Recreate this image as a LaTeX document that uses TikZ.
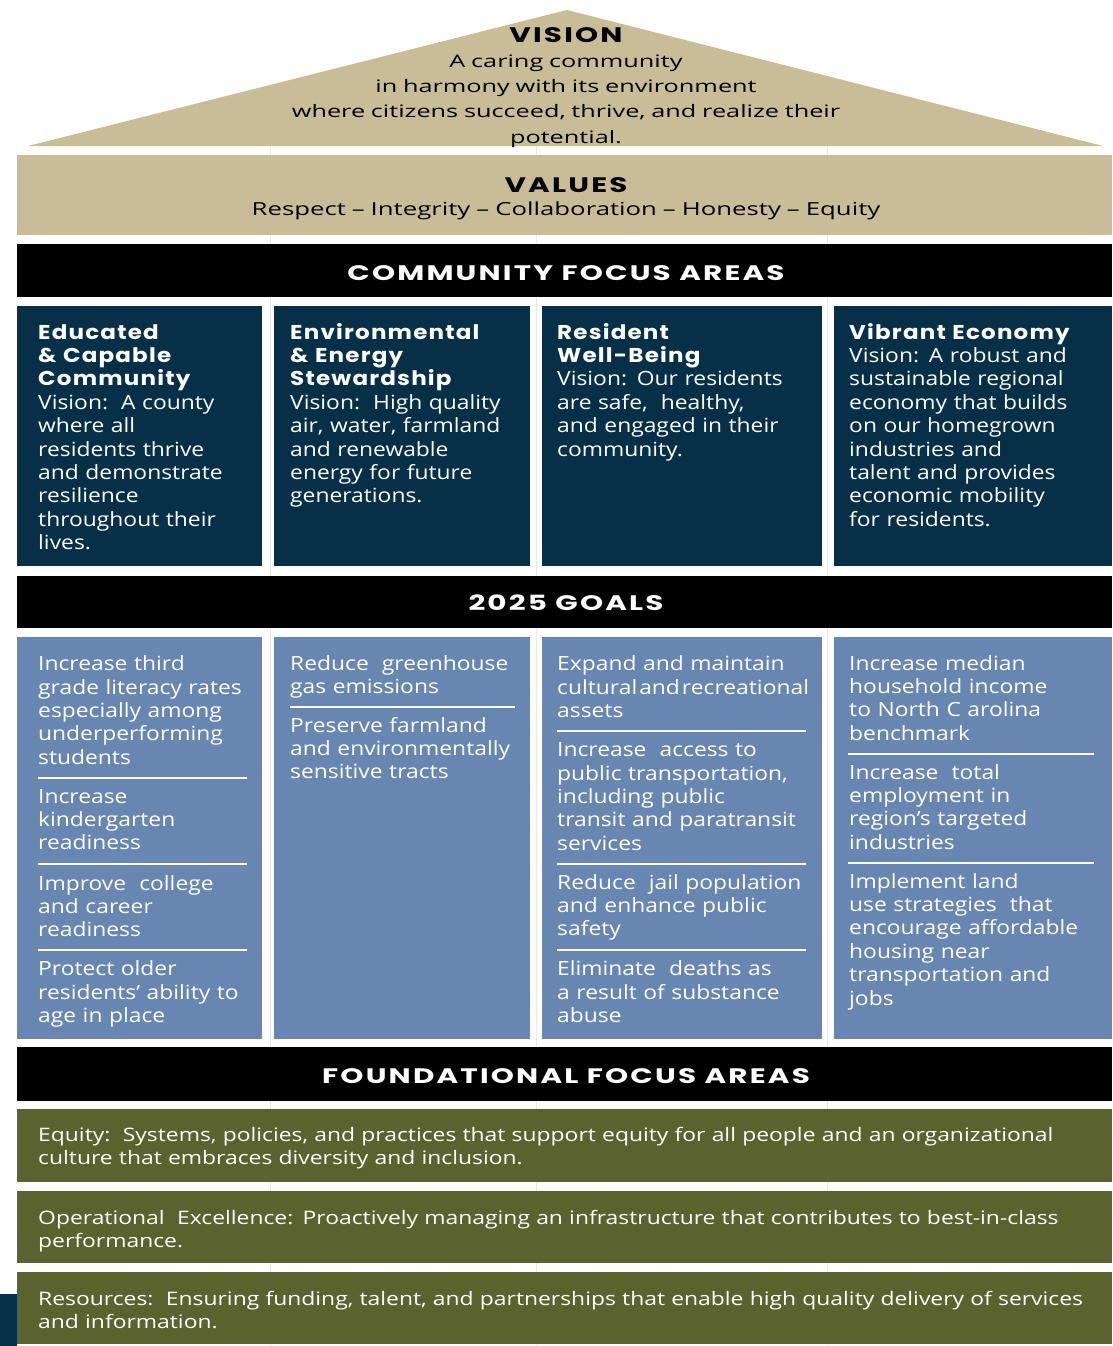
\documentclass[tikz,border=0pt]{standalone}
\usepackage{fontspec}
\setmainfont{Open Sans}
\newfontfamily\bodyfam{Open Sans}[FakeStretch=1.165]
\newfontfamily\rooffam{Open Sans}[FakeStretch=1.47]
\newfontfamily\valfam{Open Sans}[FakeStretch=1.43]
\newfontfamily\greenfam{Open Sans}[FakeStretch=1.23]
\newfontfamily\hdfam{Poppins}[FakeStretch=1.4,LetterSpace=10.5]
\newfontfamily\ttlfam{Poppins}[FakeStretch=1.15,LetterSpace=6]
\newcommand\bodyfont{\bodyfam\fontsize{19.6}{23.4}\selectfont}
\newcommand\rooffont{\rooffam\fontsize{17.2}{25.4}\selectfont}
\newcommand\valfont{\valfam\fontsize{18}{22}\selectfont}
\newcommand\greenfont{\greenfam\fontsize{18.6}{23.4}\selectfont}
\newcommand\hdfont{\hdfam\bfseries\fontsize{21}{25}\selectfont}
\newcommand\ttlfont{\ttlfam\bfseries\fontsize{20}{23.4}\selectfont}
\definecolor{tan}{RGB}{201,189,152}
\definecolor{navy}{RGB}{5,48,72}
\definecolor{steel}{RGB}{103,134,178}
\definecolor{olive}{RGB}{90,98,46}
\definecolor{grid}{RGB}{232,232,232}
\tikzset{
  bodytxt/.style={anchor=base west, inner sep=0pt, align=left, text width=262pt, font=\bodyfont, text=white},
  greentxt/.style={anchor=base west, inner sep=0pt, align=left, text width=1070pt, font=\greenfont, text=white},
  hdtxt/.style={anchor=base, inner sep=0pt, font=\hdfont, text=white},
  rooftxt/.style={anchor=base, inner sep=0pt, align=center, text width=700pt, font=\rooffont, text=black},
  sepline/.style={draw=white, line width=1.6pt}
}
\begin{document}
\begin{tikzpicture}[x=1pt,y=-1pt]
\useasboundingbox (0,0) rectangle (1112,1346);
% faint grid
\foreach \gx in {270,536,827}{\draw[grid, line width=0.8pt] (\gx,146) -- (\gx,1346);}
% roof and values
\fill[tan] (28,146) -- (567,10) -- (1103,146) -- cycle;
\fill[tan] (17,155) rectangle (1112,235);
% bars
\fill[black] (17,244) rectangle (1112,297);
\fill[black] (17,576) rectangle (1112,628);
\fill[black] (17,1047) rectangle (1112,1101);
% community boxes
\fill[navy] (17,306) rectangle (262,566);
\fill[navy] (274,306) rectangle (530,566);
\fill[navy] (542,306) rectangle (822,566);
\fill[navy] (834,306) rectangle (1112,566);
% goal boxes
\fill[steel] (17,637) rectangle (262,1039);
\fill[steel] (274,637) rectangle (530,1039);
\fill[steel] (542,637) rectangle (822,1039);
\fill[steel] (834,637) rectangle (1112,1039);
% foundational boxes
\fill[olive] (17,1109) rectangle (1112,1182);
\fill[olive] (17,1191) rectangle (1112,1263);
\fill[olive] (17,1272) rectangle (1112,1344);
\fill[navy] (0,1294) rectangle (17,1346);

% roof text
\node[hdtxt, text=black] (vision) at (566,43) {VISION};
\node[rooftxt] (visiontxt) at (566,67) {A caring community\\in harmony with its environment\\where citizens succeed, thrive, and realize their\\potential.};
\node[hdtxt, text=black] (values) at (566,192) {VALUES};
\node[rooftxt, font=\valfont] (valuestxt) at (566,215) {Respect – Integrity – Collaboration – Honesty – Equity};

% headers
\node[hdtxt] (cfa) at (566,280) {COMMUNITY FOCUS AREAS};
\node[hdtxt] (goals) at (566,610) {2025 GOALS};
\node[hdtxt] (ffa) at (566,1083) {FOUNDATIONAL FOCUS AREAS};

% community focus areas
\node[bodytxt] (c1) at (38,339) {{\ttlfont Educated\\\& Capable\\Community}\\Vision:\ \ A county\\where all\\residents thrive\\and demonstrate\\resilience\\throughout their\\lives.};
\node[bodytxt] (c2) at (290,339) {{\ttlfont Environmental\\\& Energy\\Stewardship}\\Vision:\ \ High quality\\air, water, farmland\\and renewable\\energy for future\\generations.};
\node[bodytxt] (c3) at (557,339) {{\ttlfont Resident\\Well-Being}\\Vision: Our residents\\are safe,\ \ healthy,\\and engaged in their\\community.};
\node[bodytxt] (c4) at (849,339) {{\ttlfont Vibrant Economy}\\Vision: A robust and\\sustainable regional\\economy that builds\\on our homegrown\\industries and\\talent and provides\\economic mobility\\for residents.};

% goals column 1
\node[bodytxt] (g11) at (38,670.7) {Increase third\\grade literacy rates\\especially among\\underperforming\\students};
\node[bodytxt] (g12) at (38,803) {Increase\\kindergarten\\readiness};
\node[bodytxt] (g13) at (38,890) {Improve\ \ college\\and career\\readiness};
\node[bodytxt] (g14) at (38,975.7) {Protect older\\residents’ ability to\\age in place};
\draw[sepline] (38,778) -- (247,778);
\draw[sepline] (38,864) -- (247,864);
\draw[sepline] (38,950) -- (247,950);
% goals column 2
\node[bodytxt] (g21) at (290,670) {Reduce\ \ greenhouse\\gas emissions};
\node[bodytxt] (g22) at (290,732) {Preserve farmland\\and environmentally\\sensitive tracts};
\draw[sepline] (290,707) -- (515,707);
% goals column 3
\node[bodytxt] (g31) at (557,670.7) {Expand and maintain\\cultural\hspace{2pt}and\hspace{2pt}recreational\\assets};
\node[bodytxt] (g32) at (557,756.7) {Increase\ \ access to\\public transportation,\\including public\\transit and paratransit\\services};
\node[bodytxt] (g33) at (557,889) {Reduce\ \ jail population\\and enhance public\\safety};
\node[bodytxt] (g34) at (557,975.7) {Eliminate\ \ deaths as\\a result of substance\\abuse};
\draw[sepline] (557,731) -- (806,731);
\draw[sepline] (557,864) -- (806,864);
\draw[sepline] (557,950) -- (806,950);
% goals column 4
\node[bodytxt] (g41) at (849,670) {Increase median\\household income\\to North C arolina\\benchmark};
\node[bodytxt] (g42) at (849,779) {Increase\ \ total\\employment in\\region’s targeted\\industries};
\node[bodytxt] (g43) at (849,888) {Implement land\\use strategies\ \ that\\encourage affordable\\housing near\\transportation and\\jobs};
\draw[sepline] (848,754) -- (1094,754);
\draw[sepline] (848,863) -- (1094,863);

% foundational
\node[greentxt] (f1) at (38,1141) {Equity:\ \ Systems, policies, and practices that support equity for all people and an organizational\\culture that embraces diversity and inclusion.};
\node[greentxt] (f2) at (38,1224) {Operational\ \ Excellence: Proactively managing an infrastructure that contributes to best-in-class\\performance.};
\node[greentxt] (f3) at (38,1305) {Resources:\ \ Ensuring funding, talent, and partnerships that enable high quality delivery of services\\and information.};
\end{tikzpicture}
\end{document}
